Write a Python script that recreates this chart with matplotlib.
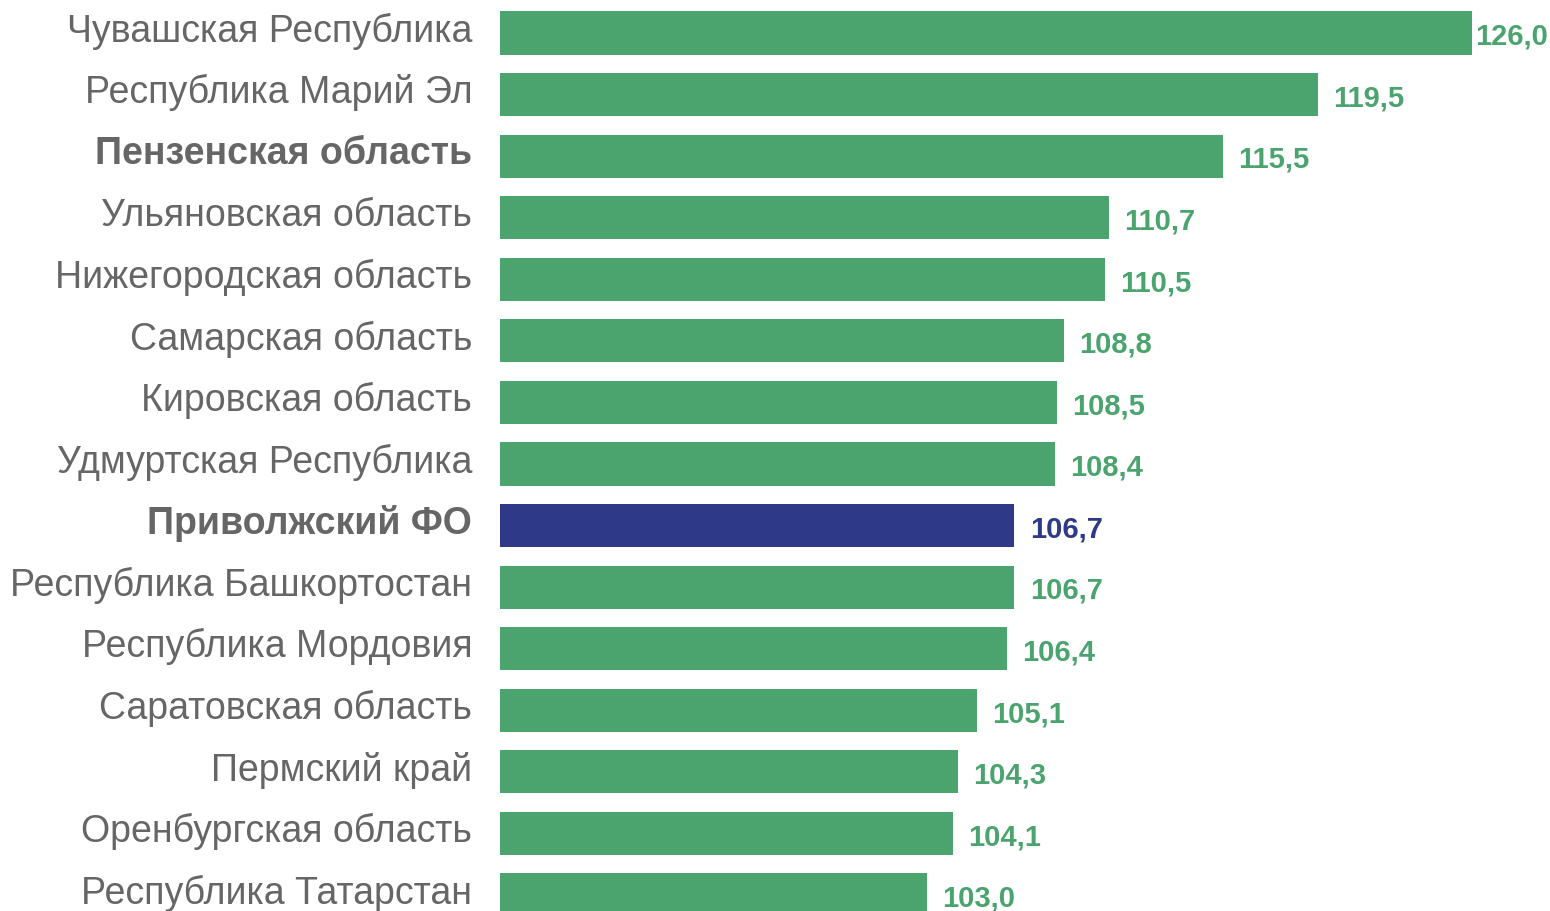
import matplotlib
matplotlib.use('Agg')
import matplotlib.pyplot as plt

plt.rcParams['font.family'] = ['Liberation Sans', 'DejaVu Sans']

regions = [
	'Чувашская Республика',
	'Республика Марий Эл',
	'Пензенская область',
	'Ульяновская область',
	'Нижегородская область',
	'Самарская область',
	'Кировская область',
	'Удмуртская Республика',
	'Приволжский ФО',
	'Республика Башкортостан',
	'Республика Мордовия',
	'Саратовская область',
	'Пермский край',
	'Оренбургская область',
	'Республика Татарстан',
]
values = [126.0, 119.5, 115.5, 110.7, 110.5, 108.8, 108.5, 108.4, 106.7, 106.7, 106.4, 105.1, 104.3, 104.1, 103.0]
bold_labels = ['Пензенская область', 'Приволжский ФО']
district = 'Приволжский ФО'

GREEN = '#4ba36e'
NAVY = '#2e3a87'
GREY = '#666666'
x_start = 85

def main():
	fig = plt.figure(figsize=(15.5, 9.12), dpi=100)
	ax = fig.add_axes([500/1550, -0.0162, 972/1550, 1.0127])

	ypos = list(range(len(regions)))
	colors = [NAVY if r == district else GREEN for r in regions]
	widths = [v - x_start for v in values]
	ax.barh(ypos, widths, left=x_start, height=0.7, color=colors)

	ax.set_xlim(x_start, 126.0)
	ax.set_ylim(len(regions) - 0.5, -0.5)
	ax.set_yticks([])
	ax.set_xticks([])
	for s in ax.spines.values():
		s.set_visible(False)

	# category names, a little above the bar centre as in the source
	for y, r in zip(ypos, regions):
		w = 'bold' if r in bold_labels else 'normal'
		ax.annotate(r, xy=(x_start, y), xytext=(-20, 2),
			textcoords='offset points', va='center', ha='right',
			fontsize=27, fontweight=w, color=GREY, annotation_clip=False)

	for y, v, c in zip(ypos, values, colors):
		off = 2 if v == max(values) else 11
		ax.annotate(('%.1f' % v).replace('.', ','), xy=(v, y), xytext=(off, -2),
			textcoords='offset points', va='center', ha='left',
			fontsize=21, fontweight='bold', color=c, annotation_clip=False)

	fig.savefig('out.png', dpi=100)


if __name__ == '__main__':
	main()
